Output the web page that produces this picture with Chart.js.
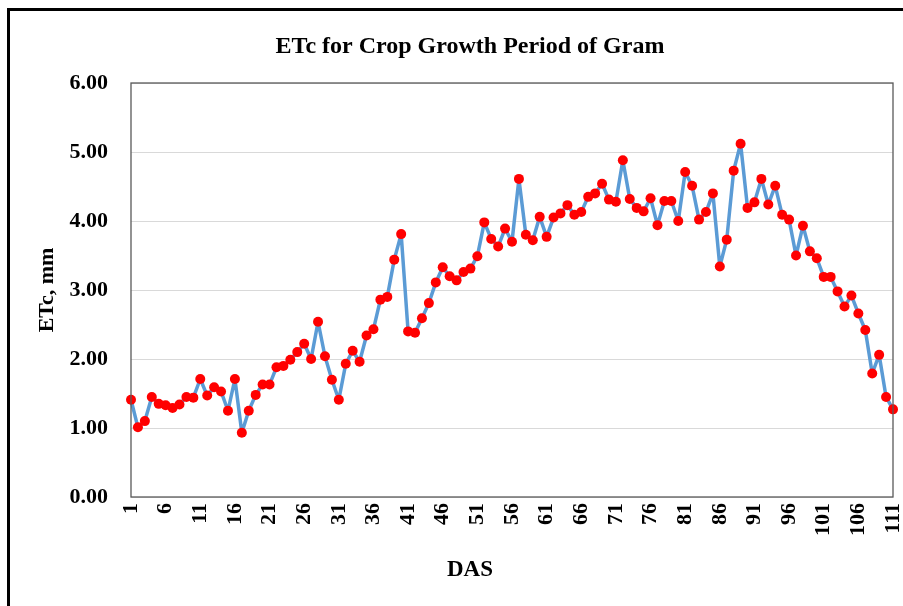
<!DOCTYPE html>
<html>
<head>
<meta charset="utf-8">
<title>ETc for Crop Growth Period of Gram</title>
<script src="https://cdn.jsdelivr.net/npm/chart.js@4/dist/chart.umd.min.js"></script>
<style>
  html, body { margin:0; padding:0; background:#fff; }
  #wrap { position:relative; width:903px; height:606px; overflow:hidden; }
  #frame { position:absolute; left:7px; top:8px; width:1000px; height:700px;
           border-left:3px solid #000; border-top:3px solid #000; pointer-events:none; }
  #chart { position:absolute; left:0; top:0; }
</style>
</head>
<body>
<div id="wrap">
  <canvas id="chart" width="903" height="606"></canvas>
  <div id="frame"></div>
</div>
<script>
// --- Datos ---
const chartTitle = 'ETc for Crop Growth Period of Gram';
const xTitle = 'DAS';
const yTitle = 'ETc, mm';

// días después de la siembra (1..111)
const das = Array.from({ length: 111 }, (_, i) => i + 1);
// etiquetas visibles en el eje X
const dasTicks = [1, 6, 11, 16, 21, 26, 31, 36, 41, 46, 51, 56, 61, 66, 71, 76, 81, 86, 91, 96, 101, 106, 111];
// eje Y
const yMin = 0, yMax = 6, yStep = 1;

// ETc diario (mm)
const etc = [
  1.41, 1.01, 1.10, 1.45, 1.35, 1.33, 1.29, 1.34, 1.45, 1.44,
  1.71, 1.47, 1.59, 1.53, 1.25, 1.71, 0.93, 1.25, 1.48, 1.63,
  1.63, 1.88, 1.90, 1.99, 2.10, 2.22, 2.00, 2.54, 2.04, 1.70,
  1.41, 1.93, 2.12, 1.96, 2.34, 2.43, 2.86, 2.90, 3.44, 3.81,
  2.40, 2.38, 2.59, 2.81, 3.11, 3.33, 3.20, 3.14, 3.26, 3.31,
  3.49, 3.98, 3.74, 3.63, 3.89, 3.70, 4.61, 3.80, 3.72, 4.06,
  3.77, 4.05, 4.11, 4.23, 4.09, 4.13, 4.35, 4.40, 4.54, 4.31,
  4.28, 4.88, 4.32, 4.19, 4.14, 4.33, 3.94, 4.29, 4.29, 4.00,
  4.71, 4.51, 4.02, 4.13, 4.40, 3.34, 3.73, 4.73, 5.12, 4.19,
  4.27, 4.61, 4.24, 4.51, 4.09, 4.02, 3.50, 3.93, 3.56, 3.46,
  3.19, 3.19, 2.98, 2.76, 2.92, 2.66, 2.42, 1.79, 2.06, 1.45,
  1.27
];

// --- Estilos ---
const FONT = "'Liberation Serif', 'Times New Roman', serif";
const boldFont = (size) => ({ family: FONT, size, weight: 'bold', lineHeight: 1.2 });

// marco del área de trazado
const plotFrame = {
  id: 'plotFrame',
  afterDatasetsDraw(chart){
    const a = chart.chartArea; const ctx = chart.ctx;
    ctx.save();
    ctx.strokeStyle = '#595959'; ctx.lineWidth = 1.3;
    ctx.strokeRect(a.left, a.top, a.right - a.left, a.bottom - a.top);
    ctx.restore();
  }
};

new Chart(document.getElementById('chart'), {
  type: 'line',
  data: {
    labels: das,
    datasets: [{
      label: 'ETc',
      data: etc,
      borderColor: '#5B9BD5',
      borderWidth: 3.5,
      borderJoinStyle: 'round',
      borderCapStyle: 'round',
      backgroundColor: '#FF0000',
      pointBackgroundColor: '#FF0000',
      pointBorderColor: '#FF0000',
      pointBorderWidth: 0,
      pointRadius: 5,
      tension: 0,
      clip: false
    }]
  },
  options: {
    responsive: false,
    animation: false,
    layout: { padding: { left: 47, right: 10, top: 0, bottom: 0 } },
    plugins: {
      legend: { display: false },
      tooltip: { enabled: false },
      title: {
        display: true, text: chartTitle, color: '#000',
        font: boldFont(24), padding: { top: 32.4, bottom: 21.8 }
      },
      subtitle: {
        display: true, text: xTitle, position: 'bottom', color: '#000',
        font: boldFont(23), padding: { top: 9.2, bottom: 22.2 }
      }
    },
    scales: {
      x: {
        type: 'category',
        offset: false,
        grid: { display: false, drawTicks: false },
        border: { display: false },
        ticks: {
          autoSkip: false, maxRotation: 90, minRotation: 90, padding: 6,
          color: '#000', font: boldFont(22),
          callback(val, i){ const d = das[i]; return dasTicks.includes(d) ? String(d) : ''; }
        },
        afterFit(scale){ scale.height = 50; scale.paddingLeft = 0; scale.paddingRight = 0; }
      },
      y: {
        min: yMin, max: yMax,
        grid: { color: '#D9D9D9', lineWidth: 1, drawTicks: false },
        border: { display: false },
        ticks: {
          stepSize: yStep, padding: 23, color: '#000', font: boldFont(22),
          callback(v){ return Number(v).toFixed(2); }
        },
        title: {
          display: true, text: yTitle, color: '#000',
          font: boldFont(22), padding: { top: -13, bottom: 0 }
        },
        afterFit(scale){ scale.width = 84; }
      }
    }
  },
  plugins: [plotFrame]
});
</script>
</body>
</html>
